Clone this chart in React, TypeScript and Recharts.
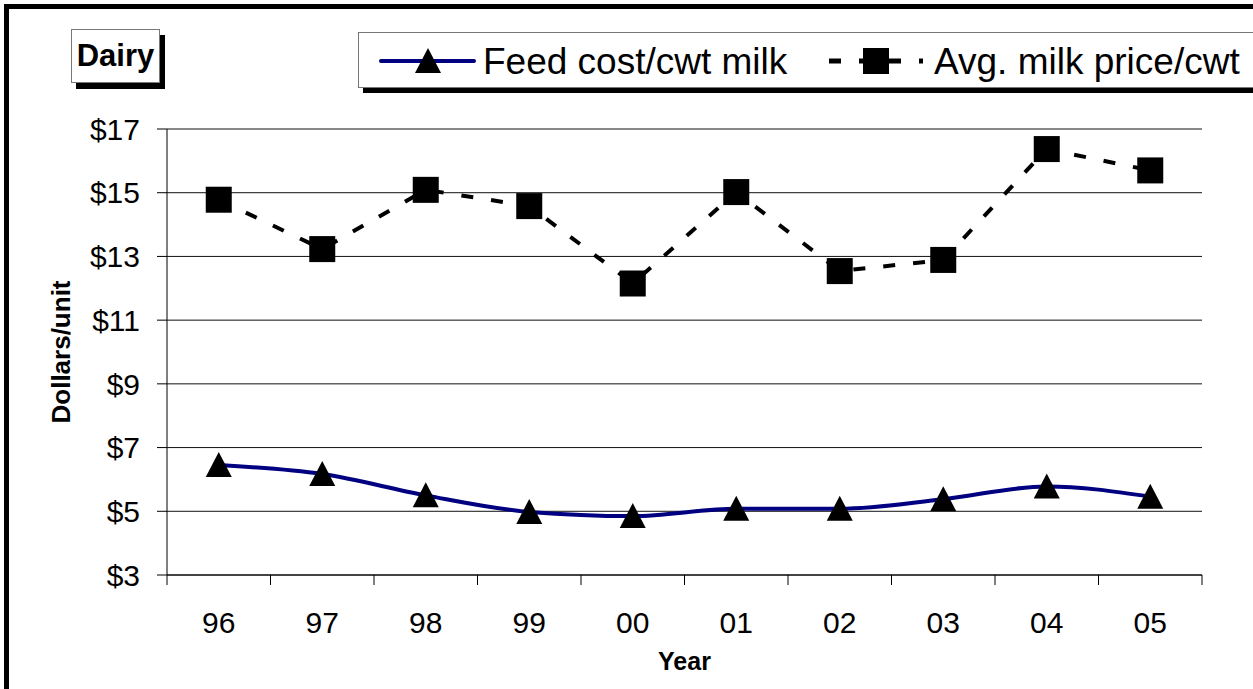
import * as React from "react";
import {
  LineChart,
  Line,
  XAxis,
  YAxis,
  CartesianGrid,
  Legend,
} from "recharts";

const YEARS = ["96", "97", "98", "99", "00", "01", "02", "03", "04", "05"];
const FEED_COST = [6.45, 6.17, 5.5, 4.98, 4.85, 5.08, 5.08, 5.38, 5.78, 5.46];
const MILK_PRICE = [14.78, 13.23, 15.09, 14.58, 12.15, 15.02, 12.54, 12.89, 16.37, 15.7];
const Y_TICKS = [3, 5, 7, 9, 11, 13, 15, 17];
const SERIES_NAMES = ["Feed cost/cwt milk", "Avg. milk price/cwt"];

const FONT = "'Liberation Sans', Arial, Helvetica, sans-serif";
const NAVY = "#000080";
const W = 1253;
const H = 689;
const X_TICK = 10;

const data = YEARS.map((year, i) => ({
  year,
  feed: FEED_COST[i],
  milk: MILK_PRICE[i],
}));

function Triangle({ cx, cy }: { cx: number; cy: number }) {
  return (
    <polygon
      points={`${cx},${cy - 13} ${cx + 13},${cy + 12} ${cx - 13},${cy + 12}`}
      fill="#000"
    />
  );
}

function Square({ cx, cy }: { cx: number; cy: number }) {
  return <rect x={cx - 13} y={cy - 13} width={26} height={26} fill="#000" />;
}

function YearTick(props: any) {
  const { x, y, payload, index, visibleTicksCount } = props;
  const half = payload.offset || (1202 - 167) / YEARS.length / 2;
  const axisY = y - X_TICK;
  return (
    <g>
      <line x1={x - half} x2={x - half} y1={axisY} y2={axisY + X_TICK} stroke="#000" />
      {index === visibleTicksCount - 1 && (
        <line x1={x + half} x2={x + half} y1={axisY} y2={axisY + X_TICK} stroke="#000" />
      )}
      <text x={x} y={axisY + 58} textAnchor="middle" fontSize={30} fontFamily={FONT} fill="#000">
        {payload.value}
      </text>
    </g>
  );
}

function LegendBox() {
  return (
    <div
      style={{
        width: 920,
        height: 54,
        background: "#fff",
        border: "1px solid #777",
        boxShadow: "5px 5px 0 #000",
      }}
    >
      <svg width={920} height={54} style={{ display: "block" }}>
        <line x1={22} x2={115} y1={28} y2={28} stroke={NAVY} strokeWidth={4} strokeLinecap="round" />
        <Triangle cx={69} cy={28} />
        <text x={124} y={41} fontSize={37} fontFamily={FONT} fill="#000">
          {SERIES_NAMES[0]}
        </text>
        <line x1={470} x2={564} y1={28} y2={28} stroke="#000" strokeWidth={5} strokeDasharray="12 18" />
        <Square cx={517} cy={28} />
        <text x={575} y={41} fontSize={37} fontFamily={FONT} fill="#000">
          {SERIES_NAMES[1]}
        </text>
      </svg>
    </div>
  );
}

export default function App() {
  return (
    <div
      style={{
        position: "fixed",
        left: 0,
        top: 0,
        width: W,
        height: H,
        overflow: "hidden",
        background: "#fff",
        fontFamily: FONT,
      }}
    >
      <div
        style={{
          position: "absolute",
          left: 4,
          top: 4,
          width: W + 40,
          height: H + 40,
          border: "5px solid #000",
          boxSizing: "border-box",
        }}
      />
      <div style={{ position: "absolute", left: 0, top: 0 }}>
        <LineChart
          width={W}
          height={H}
          data={data}
          margin={{ top: 129, right: 51, left: 0, bottom: 0 }}
        >
          <CartesianGrid vertical={false} stroke="#111" />
          <XAxis
            dataKey="year"
            scale="band"
            height={H - 575}
            stroke="#000"
            tickLine={false}
            tickSize={X_TICK}
            tickMargin={0}
            interval={0}
            tick={<YearTick />}
            label={{
              content: (p: any) => (
                <text
                  x={p.viewBox.x + p.viewBox.width / 2}
                  y={670}
                  textAnchor="middle"
                  fontSize={25}
                  fontWeight="bold"
                  fontFamily={FONT}
                  fill="#000"
                >
                  Year
                </text>
              ),
            }}
          />
          <YAxis
            width={167}
            domain={[3, 17]}
            ticks={Y_TICKS}
            interval={0}
            stroke="#000"
            tickSize={10}
            tickMargin={17}
            tickFormatter={(v: number) => `$${v}`}
            tick={{ fill: "#000", fontSize: 30, fontFamily: FONT }}
            label={{
              content: (p: any) => {
                const cy = p.viewBox.y + p.viewBox.height / 2;
                return (
                  <text
                    x={70}
                    y={cy}
                    transform={`rotate(-90 70 ${cy})`}
                    textAnchor="middle"
                    fontSize={26}
                    fontWeight="bold"
                    fontFamily={FONT}
                    fill="#000"
                  >
                    Dollars/unit
                  </text>
                );
              },
            }}
          />
          <Legend
            layout="vertical"
            align="center"
            verticalAlign="middle"
            wrapperStyle={{ position: "absolute", left: 358, top: 32, width: 920 }}
            content={() => <LegendBox />}
          />
          <Line
            dataKey="feed"
            name={SERIES_NAMES[0]}
            type="monotone"
            stroke={NAVY}
            strokeWidth={4}
            dot={(p: any) => <Triangle key={`t${p.index}`} cx={p.cx} cy={p.cy} />}
            activeDot={false}
            isAnimationActive={false}
          />
          <Line
            dataKey="milk"
            name={SERIES_NAMES[1]}
            type="linear"
            stroke="#000"
            strokeWidth={4}
            strokeDasharray="12 18"
            dot={(p: any) => <Square key={`s${p.index}`} cx={p.cx} cy={p.cy} />}
            activeDot={false}
            isAnimationActive={false}
          />
        </LineChart>
      </div>
      <div
        style={{
          position: "absolute",
          left: 71,
          top: 29,
          width: 89,
          height: 54,
          boxSizing: "border-box",
          border: "1px solid #777",
          background: "#fff",
          boxShadow: "5px 6px 0 #000",
          display: "flex",
          alignItems: "center",
          justifyContent: "center",
          fontSize: 31,
          fontWeight: "bold",
          color: "#000",
        }}
      >
        Dairy
      </div>
    </div>
  );
}
